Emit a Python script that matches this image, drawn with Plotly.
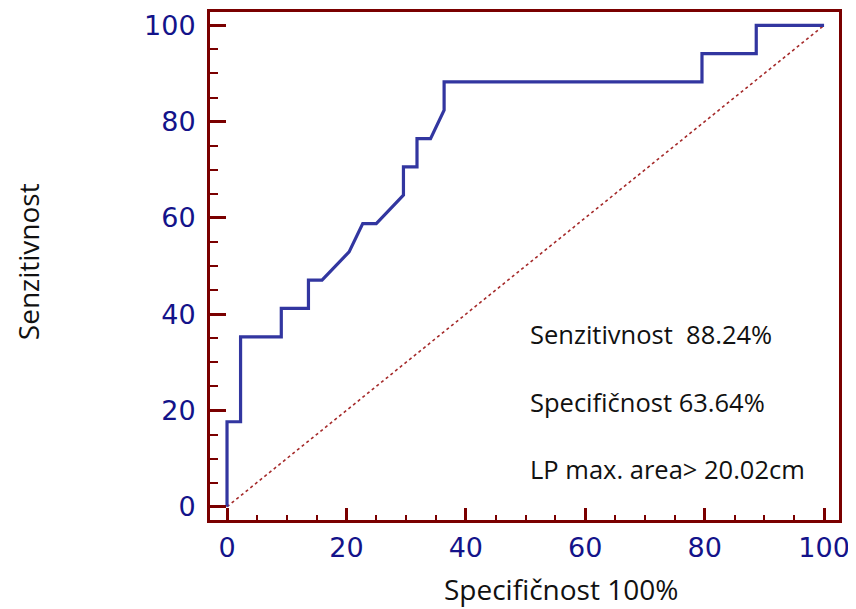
import plotly.graph_objects as go

# ROC curve points (100 - specificity, sensitivity), in %
fpr = [0, 0, 2.27, 2.27, 9.09, 9.09, 13.64, 13.64, 15.91, 20.45, 22.73, 25.00,
       29.55, 29.55, 31.82, 31.82, 34.09, 36.36, 36.36, 79.55, 79.55, 88.64, 88.64, 100]
tpr = [0, 17.65, 17.65, 35.29, 35.29, 41.18, 41.18, 47.06, 47.06, 52.94, 58.82, 58.82,
       64.71, 70.59, 70.59, 76.47, 76.47, 82.35, 88.24, 88.24, 94.12, 94.12, 100, 100]
diag_x = [0, 100]
diag_y = [0, 100]
tick_vals = [0, 20, 40, 60, 80, 100]
tick_text = ["0", "20", "40", "60", "80", "100"]
stat_lines = ["Senzitivnost  88.24%", "Specifičnost 63.64%", "LP max. area> 20.02cm"]
x_title = "Specifičnost 100%"
y_title = "Senzitivnost"

AXIS = "#7a0000"
TICKFONT = dict(family="DejaVu Sans", size=27, color="#13138a")
TEXTFONT = dict(family="Open Sans", size=25.5, color="#111111")
TITLEFONT = dict(family="Open Sans", size=28, color="#111111")

fig = go.Figure()
fig.add_trace(go.Scatter(x=diag_x, y=diag_y, mode="lines",
                         line=dict(color="#a52a2a", width=1.6, dash="dot"),
                         hoverinfo="skip", showlegend=False))
fig.add_trace(go.Scatter(x=fpr, y=tpr, mode="lines",
                         line=dict(color="#3236a0", width=3.2),
                         showlegend=False))

axis_common = dict(showgrid=False, zeroline=False, showline=True, linecolor=AXIS,
                   linewidth=3, mirror=True, ticks="inside", tickcolor=AXIS,
                   tickwidth=3, tickvals=tick_vals, ticktext=tick_text,
                   tickfont=TICKFONT, automargin=False)
fig.update_xaxes(range=[-2.85, 102.5], ticklen=12,
                 minor=dict(dtick=5, tick0=0, ticks="inside", ticklen=5,
                            tickwidth=1.5, tickcolor=AXIS),
                 ticklabelstandoff=2, **axis_common)
fig.update_yaxes(range=[-2.76, 102.76], ticklen=16,
                 minor=dict(dtick=5, tick0=0, ticks="inside", ticklen=8,
                            tickwidth=1.5, tickcolor=AXIS),
                 ticklabelstandoff=6, **axis_common)

ys = [0.366, 0.232, 0.100]
for txt, yy in zip(stat_lines, ys):
    fig.add_annotation(text=txt, xref="paper", yref="paper", x=0.506, y=yy,
                       xanchor="left", yanchor="middle", showarrow=False,
                       font=TEXTFONT)
fig.add_annotation(text=x_title, xref="paper", yref="paper", x=0.558, y=-0.1752,
                   xanchor="center", yanchor="bottom", showarrow=False,
                   borderpad=0, font=TITLEFONT)
fig.add_annotation(text=y_title, xref="paper", yref="paper", x=-0.289, y=0.508,
                   xanchor="center", yanchor="middle", showarrow=False,
                   borderpad=0, textangle=-90, font=TITLEFONT)

# the page body has an 8px margin, so the figure is 8px smaller and margins shifted
fig.update_layout(width=848, height=601, margin=dict(l=202, r=17, t=4, b=89),
                  paper_bgcolor="white", plot_bgcolor="white")
fig.write_html("out.html")
